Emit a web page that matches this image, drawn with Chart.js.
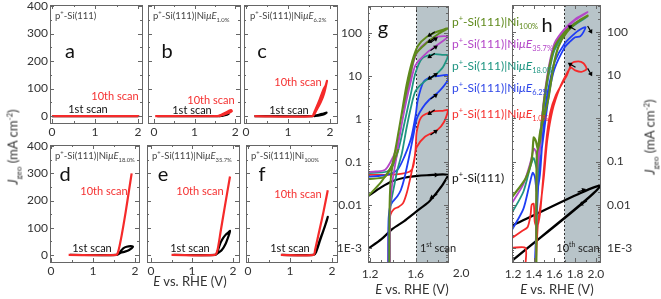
<!DOCTYPE html>
<html>
<head>
<meta charset="utf-8">
<script src="https://cdn.jsdelivr.net/npm/chart.js@4.4.0/dist/chart.umd.min.js"></script>
<style>
html,body{margin:0;padding:0;background:#fff;width:661px;height:299px;overflow:hidden;position:relative;font-family:Lato,'Open Sans',sans-serif;color:#333}
canvas{position:absolute;left:-20px;top:-20px}
.t{position:absolute;white-space:nowrap;line-height:1}
.c{transform:translate(-50%,-50%)}
.ti{font-size:9.5px;color:#444}
.lt{font-size:20px;color:#111}
.sc{font-size:11px}
.lg{font-size:12px}
sup,sub{font-size:62%;line-height:0}
</style>
</head>
<body>
<canvas id="pa" width="701" height="339"></canvas>
<canvas id="pb" width="701" height="339"></canvas>
<canvas id="pc" width="701" height="339"></canvas>
<canvas id="pd" width="701" height="339"></canvas>
<canvas id="pe" width="701" height="339"></canvas>
<canvas id="pf" width="701" height="339"></canvas>
<canvas id="pg" width="701" height="339"></canvas>
<canvas id="ph" width="701" height="339"></canvas>

<!-- panel titles -->
<div class="t ti" style="left:55px;top:11px">p<sup>+</sup>-Si(111)</div>
<div class="t ti" style="left:153px;top:11px">p<sup>+</sup>-Si(111)|Ni<i>μE</i><sub>1.0%</sub></div>
<div class="t ti" style="left:250px;top:11px">p<sup>+</sup>-Si(111)|Ni<i>μE</i><sub>6.2%</sub></div>
<div class="t ti" style="left:55px;top:151px">p<sup>+</sup>-Si(111)|Ni<i>μE</i><sub>18.0%</sub></div>
<div class="t ti" style="left:152px;top:151px">p<sup>+</sup>-Si(111)|Ni<i>μE</i><sub>35.7%</sub></div>
<div class="t ti" style="left:251px;top:151px">p<sup>+</sup>-Si(111)|Ni<sub>100%</sub></div>

<!-- panel letters -->
<div class="t c lt" style="left:70px;top:50px">a</div>
<div class="t c lt" style="left:167px;top:50px">b</div>
<div class="t c lt" style="left:262px;top:50px">c</div>
<div class="t c lt" style="left:65px;top:173px">d</div>
<div class="t c lt" style="left:163px;top:173px">e</div>
<div class="t c lt" style="left:262px;top:173px">f</div>
<div class="t c lt" style="left:383px;top:27px">g</div>
<div class="t c lt" style="left:547px;top:24px">h</div>

<!-- scan labels -->
<div class="t c sc" style="left:115px;top:95px;color:#f53030">10th scan</div>
<div class="t c sc" style="left:88px;top:108px;color:#111">1st scan</div>
<div class="t c sc" style="left:211px;top:99px;color:#f53030">10th scan</div>
<div class="t c sc" style="left:192px;top:109px;color:#111">1st scan</div>
<div class="t c sc" style="left:298px;top:81px;color:#f53030">10th scan</div>
<div class="t c sc" style="left:289px;top:109px;color:#111">1st scan</div>
<div class="t c sc" style="left:104px;top:190px;color:#f53030">10th scan</div>
<div class="t c sc" style="left:92px;top:247px;color:#111">1st scan</div>
<div class="t c sc" style="left:200px;top:190px;color:#f53030">10th scan</div>
<div class="t c sc" style="left:190px;top:247px;color:#111">1st scan</div>
<div class="t c sc" style="left:298px;top:193px;color:#f53030">10th scan</div>
<div class="t c sc" style="left:290px;top:247px;color:#111">1st scan</div>
<div class="t c sc" style="left:438px;top:247px;color:#222">1<sup>st</sup> scan</div>
<div class="t c sc" style="left:578px;top:247px;color:#222">10<sup>th</sup> scan</div>

<!-- legend of g -->
<div class="t lg" style="left:452px;top:16px;color:#5f8a1c">p<sup>+</sup>-Si(111)|Ni<sub>100%</sub></div>
<div class="t lg" style="left:452px;top:38px;color:#b447c8">p<sup>+</sup>-Si(111)|Ni<i>μE</i><sub>35.7%</sub></div>
<div class="t lg" style="left:452px;top:60px;color:#1f9582">p<sup>+</sup>-Si(111)|Ni<i>μE</i><sub>18.0%</sub></div>
<div class="t lg" style="left:452px;top:82px;color:#3048e8">p<sup>+</sup>-Si(111)|Ni<i>μE</i><sub>6.2%</sub></div>
<div class="t lg" style="left:452px;top:108px;color:#f53030">p<sup>+</sup>-Si(111)|Ni<i>μE</i><sub>1.0%</sub></div>
<div class="t lg" style="left:452px;top:172px;color:#111">p<sup>+</sup>-Si(111)</div>

<!-- axis titles -->
<div class="t c" style="left:13px;top:147px;transform:translate(-50%,-50%) rotate(-90deg);font-size:13px"><i>J</i><sub>geo</sub> (mA cm<sup>-2</sup>)</div>
<div class="t c" style="left:650px;top:137px;transform:translate(-50%,-50%) rotate(-90deg);font-size:13px"><i>J</i><sub>geo</sub> (mA cm<sup>-2</sup>)</div>
<div class="t c" style="left:190px;top:281px;font-size:13px"><i>E</i> vs. RHE (V)</div>
<div class="t c" style="left:412px;top:289px;font-size:13px"><i>E</i> vs. RHE (V)</div>
<div class="t c" style="left:557px;top:289px;font-size:13px"><i>E</i> vs. RHE (V)</div>

<script>
/* data: [E (V vs RHE), J (mA cm-2)] */
const aBlack = [[0,0],[2.0,0]];
const aRed   = [[0,0],[2.03,0]];
const bBlack = [[0.08,0],[1.6,0],[1.68,2],[1.76,5],[1.84,9],[1.8,5],[1.7,2],[1.62,0]];
const bRed   = [[0.03,0],[1.56,0],[1.66,5],[1.76,12],[1.85,20],[1.9,22],[1.92,18],[1.88,14],[1.8,10],[1.7,4],[1.6,0]];
const cBlack = [[0.2,0],[1.58,0],[1.7,4],[1.82,8],[1.92,13],[1.88,8],[1.75,3],[1.62,0]];
const cRed   = [[0.2,0],[1.58,0],[1.68,22],[1.78,50],[1.86,82],[1.93,128],[1.9,112],[1.85,98],[1.76,62],[1.66,25],[1.6,4]];
const dBlack = [[0.45,0],[1.57,0],[1.66,8],[1.76,12],[1.86,18],[1.95,30],[1.9,32],[1.8,30],[1.72,24],[1.65,12],[1.6,3]];
const dRed   = [[0.42,0],[1.55,0],[1.6,12],[1.68,70],[1.78,160],[1.86,240],[1.92,300]];
const eBlack = [[0.55,0],[1.57,0],[1.64,8],[1.73,18],[1.82,40],[1.9,72],[1.93,88],[1.9,84],[1.83,75],[1.76,62],[1.7,45],[1.63,15],[1.6,3]];
const eRed   = [[0.5,0],[1.56,0],[1.62,15],[1.7,85],[1.8,175],[1.93,288]];
const fBlack = [[0.8,0],[1.56,0],[1.62,10],[1.72,55],[1.82,100],[1.9,140],[1.88,128],[1.8,92],[1.7,50],[1.62,12]];
const fRed   = [[0.78,0],[1.56,0],[1.6,20],[1.7,90],[1.8,160],[1.9,238]];

/* g: 1st scan, log current */
const gBlack = [[1.182,0.016],[1.3,0.026],[1.4,0.036],[1.5,0.043],[1.6,0.047],[1.7,0.049],[1.884,0.05],[1.84,0.03],[1.79,0.02],[1.72,0.012],[1.6,0.0068],[1.5,0.0042],[1.4,0.0028],[1.3,0.0016],[1.182,0.00095]];
const gRed   = [[1.36,0.0004],[1.365,0.003],[1.38,0.006],[1.41,0.008],[1.45,0.009],[1.49,0.011],[1.525,0.02],[1.56,0.05],[1.59,0.12],[1.61,0.22],[1.68,0.38],[1.79,0.55],[1.85,0.85],[1.884,1.6],[1.84,1.55],[1.75,1.5],[1.65,1.1],[1.61,0.5],[1.6,0.2],[1.58,0.08],[1.55,0.06],[1.45,0.052],[1.3,0.05],[1.182,0.05]];
const gBlue  = [[1.36,0.0004],[1.362,0.004],[1.375,0.009],[1.4,0.012],[1.44,0.016],[1.47,0.022],[1.5,0.04],[1.54,0.12],[1.58,0.4],[1.61,1.0],[1.66,1.8],[1.72,2.8],[1.8,4.2],[1.884,8],[1.884,10.5],[1.8,10],[1.74,9.5],[1.67,7.3],[1.62,2.8],[1.6,1.2],[1.56,0.35],[1.5,0.13],[1.44,0.065],[1.35,0.05],[1.182,0.045]];
const gTeal  = [[1.37,0.0004],[1.372,0.005],[1.385,0.012],[1.41,0.026],[1.44,0.065],[1.48,0.16],[1.52,0.6],[1.56,1.9],[1.6,4.5],[1.68,7.5],[1.76,10],[1.84,16],[1.884,30],[1.84,31],[1.76,32],[1.66,26],[1.6,12],[1.56,4],[1.51,1.0],[1.46,0.25],[1.41,0.09],[1.35,0.06],[1.182,0.055]];
const gMag   = [[1.375,0.0004],[1.378,0.01],[1.4,0.04],[1.43,0.12],[1.46,0.4],[1.5,1.5],[1.55,6],[1.6,18],[1.7,35],[1.8,55],[1.884,82],[1.8,82],[1.7,62],[1.62,38],[1.58,20],[1.53,5],[1.48,0.8],[1.43,0.2],[1.38,0.1],[1.33,0.065],[1.25,0.06],[1.182,0.058]];
const gGreen = [[1.37,0.0004],[1.372,0.01],[1.385,0.05],[1.41,0.12],[1.45,0.5],[1.5,2.5],[1.55,10],[1.6,32],[1.7,60],[1.8,95],[1.884,128],[1.8,110],[1.7,82],[1.62,50],[1.57,22],[1.52,6],[1.47,1],[1.43,0.25],[1.39,0.08],[1.33,0.045],[1.182,0.04]];
const gGreenStart = [[1.182,0.016],[1.3,0.035],[1.4,0.09],[1.45,0.2]];
/* scan-direction arrows: [E, J, screen angle in degrees] */
const gArrows = [[1.74,95,145],[1.76,68,-35],[1.74,68,145],[1.76,44,-35],[1.74,30,145],[1.76,10,-35],
                 [1.74,9.5,145],[1.76,3.3,-35],[1.74,1.45,145],[1.76,0.48,-35],[1.76,0.05,0],[1.76,0.016,150]];

/* h: 10th scan, log current */
const hBlack = [[1.19,0.0033],[2.04,0.027],[1.19,0.0005]];
const hRed   = [[1.19,0.0017],[1.28,0.0024],[1.34,0.003],[1.37,0.006],[1.38,0.01],[1.4,0.0105],[1.41,0.004],[1.43,0.003],[1.46,0.006],[1.48,0.02],[1.51,0.15],[1.53,0.47],[1.56,1.4],[1.61,3.3],[1.68,6.8],[1.72,10],[1.77,19],[1.83,21],[1.88,19],[1.91,14],[1.86,12],[1.8,13],[1.76,15],[1.72,11],[1.65,5],[1.58,1.5],[1.53,0.3],[1.5,0.05],[1.47,0.012],[1.44,0.0035],[1.42,0.0004]];
const hRedBox = [[1.19,0.001],[1.32,0.001],[1.32,0.0004]];
const hBlue  = [[1.19,0.0026],[1.3,0.008],[1.36,0.03],[1.39,0.055],[1.41,0.045],[1.43,0.02],[1.46,0.05],[1.49,0.5],[1.52,2.5],[1.56,8],[1.6,20],[1.7,55],[1.8,95],[1.86,120],[1.9,130],[1.88,100],[1.85,80],[1.8,76],[1.75,60],[1.7,45],[1.6,14],[1.55,4],[1.5,0.5],[1.45,0.05],[1.41,0.0004]];
const hTeal  = [[1.19,0.0065],[1.3,0.02],[1.37,0.08],[1.4,0.12],[1.43,0.07],[1.46,0.4],[1.5,2.5],[1.55,14],[1.6,42],[1.7,100],[1.8,160],[1.92,230],[1.8,150],[1.7,95],[1.6,38],[1.55,12],[1.5,2],[1.46,0.2],[1.43,0.02],[1.42,0.0004]];
const hMag   = [[1.19,0.011],[1.3,0.03],[1.37,0.1],[1.4,0.2],[1.42,0.17],[1.44,0.12],[1.47,0.6],[1.5,3],[1.55,18],[1.6,55],[1.7,120],[1.8,200],[1.92,290],[1.8,190],[1.7,110],[1.6,50],[1.55,15],[1.5,2.5],[1.46,0.2],[1.43,0.05],[1.42,0.0004]];
const hGreen = [[1.19,0.015],[1.32,0.04],[1.38,0.11],[1.4,0.36],[1.42,0.3],[1.44,0.2],[1.46,0.45],[1.54,2.8],[1.59,16],[1.64,47],[1.72,100],[1.82,170],[1.92,240],[1.8,160],[1.7,100],[1.6,45],[1.55,15],[1.5,2.5],[1.46,0.3],[1.43,0.15],[1.425,0.0004]];
const hArrows = [[1.77,125,-150],[1.94,115,60],[1.77,17,-150],[1.94,12,60],[1.86,0.021,-20],[1.88,0.011,150]];

/* ticks */
const linXTicks = [0, 0.5, 1, 1.5, 2];
const linXMajor = [0, 1, 2];
const linYTicks = [0, 50, 100, 150, 200, 250, 300, 350, 400];
const linYMajor = [0, 100, 200, 300, 400];
const gXTicks = [1.2, 1.3, 1.4, 1.5, 1.6, 1.7, 1.8];
const gXMajor = [1.2, 1.6];
const hXTicks = [1.2, 1.3, 1.4, 1.5, 1.6, 1.7, 1.8, 1.9, 2.0];
const hXMajor = [1.2, 1.4, 1.6, 1.8, 2.0];
const logMajor = [0.001, 0.01, 0.1, 1, 10, 100];
const logLabels = ['1E-3', '0.01', '0.1', '1', '10', '100'];
const logTicks = [];
[0.0001, 0.001, 0.01, 0.1, 1, 10, 100].forEach(d => { for (let k = 1; k < 10; k++) logTicks.push(d * k); });

const RED = '#f52a2a', BLK = '#000', BLUE = '#1f3df5', TEAL = '#1f9582', MAG = '#b447c8', OLIVE = '#5f8a1c';

const has = (arr, v) => arr.some(m => Math.abs(m - v) < 1e-9 || Math.abs(v / (m || 1) - 1) < 1e-6);

/* ── plugins ── */
const frameTicks = {
    id: 'frameTicks',
    afterDatasetsDraw(chart, args, o) {
        const {ctx, chartArea: a} = chart;
        const x = chart.scales.x, y = chart.scales.y;
        ctx.save();
        ctx.strokeStyle = '#666';
        ctx.lineWidth = 1;
        ctx.beginPath();
        x.ticks.forEach(t => {
            const p = Math.round(x.getPixelForValue(t.value)) + 0.5;
            if (p < a.left - 1 || p > a.right + 1) return;
            const len = has(o.xMaj, t.value) ? 4 : 2;
            ctx.moveTo(p, a.bottom); ctx.lineTo(p, a.bottom - len);
            ctx.moveTo(p, a.top); ctx.lineTo(p, a.top + len);
        });
        y.ticks.forEach(t => {
            const p = Math.round(y.getPixelForValue(t.value)) + 0.5;
            if (p < a.top - 1 || p > a.bottom + 1) return;
            const len = has(o.yMaj, t.value) ? 4 : 2;
            ctx.moveTo(a.left, p); ctx.lineTo(a.left + len, p);
            ctx.moveTo(a.right, p); ctx.lineTo(a.right - len, p);
        });
        ctx.stroke();
        ctx.strokeRect(Math.round(a.left) + 0.5, Math.round(a.top) + 0.5, Math.round(a.right - a.left), Math.round(a.bottom - a.top));
        (o.extra || []).forEach(e => {
            ctx.fillStyle = '#333';
            ctx.font = '12px Lato';
            ctx.textAlign = 'center';
            ctx.textBaseline = 'top';
            ctx.fillText(e.t, x.getPixelForValue(e.v), a.bottom + e.pad);
        });
        /* small scan-direction arrows */
        ctx.fillStyle = '#000';
        ctx.strokeStyle = '#000';
        ctx.lineWidth = 1.2;
        (o.arrows || []).forEach(ar => {
            const px = x.getPixelForValue(ar[0]), py = y.getPixelForValue(ar[1]);
            const th = ar[2] * Math.PI / 180;
            const dx = Math.cos(th), dy = Math.sin(th);
            ctx.beginPath();
            ctx.moveTo(px - dx * 4, py - dy * 4);
            ctx.lineTo(px + dx * 3, py + dy * 3);
            ctx.stroke();
            ctx.beginPath();
            ctx.moveTo(px + dx * 5, py + dy * 5);
            ctx.lineTo(px + dx * 1 - dy * 2.5, py + dy * 1 + dx * 2.5);
            ctx.lineTo(px + dx * 1 + dy * 2.5, py + dy * 1 - dx * 2.5);
            ctx.closePath();
            ctx.fill();
        });
        ctx.restore();
    }
};

const shade = {
    id: 'shade',
    beforeDatasetsDraw(chart, args, o) {
        if (o.from == null) return;
        const {ctx, chartArea: a} = chart;
        const px = Math.round(chart.scales.x.getPixelForValue(o.from)) + 0.5;
        ctx.save();
        ctx.fillStyle = '#b8c4c9';
        ctx.fillRect(px, a.top, a.right - px, a.bottom - a.top);
        ctx.setLineDash([2, 2]);
        ctx.strokeStyle = '#333';
        ctx.beginPath();
        ctx.moveTo(px, a.top); ctx.lineTo(px, a.bottom);
        ctx.stroke();
        ctx.restore();
    }
};

/* ── panel builder ── */
const OFF = 20, CW = 701, CH = 339;
const toPts = arr => arr.map(p => ({x: p[0], y: p[1]}));

function makePanel(id, f, xs, ys, series, extra) {
    const W = 34, H = 20;
    const right = !!extra.yRight;
    const pad = right
        ? {left: f.l + OFF, top: f.t + OFF, right: CW - (f.r + OFF) - W, bottom: CH - (f.b + OFF) - H}
        : {left: f.l + OFF - W, top: f.t + OFF, right: CW - (f.r + OFF), bottom: CH - (f.b + OFF) - H};
    const font = {family: 'Lato', size: 12};
    new Chart(document.getElementById(id), {
        type: 'scatter',
        data: {
            datasets: series.map(s => ({
                data: toPts(s.d), borderColor: s.c, borderWidth: s.w || 1.8,
                showLine: true, pointRadius: 0, tension: 0.25, fill: false
            }))
        },
        options: {
            responsive: false, animation: false, events: [],
            layout: {padding: pad},
            plugins: {
                legend: {display: false}, tooltip: {enabled: false},
                shade: {from: extra.shade == null ? null : extra.shade},
                frameTicks: {xMaj: xs.major, yMaj: ys.major, extra: extra.xExtra || [], arrows: extra.arrows || []}
            },
            scales: {
                x: {
                    type: 'linear', min: xs.min, max: xs.max,
                    grid: {display: false, drawTicks: false}, border: {display: false},
                    afterBuildTicks: s => { s.ticks = xs.ticks.map(v => ({value: v})); },
                    afterFit: s => { s.height = H; },
                    ticks: {autoSkip: false, maxRotation: 0, padding: xs.pad, color: '#333', font,
                        callback: v => has(xs.labelled, v) ? xs.fmt(v) : ''}
                },
                y: {
                    type: ys.type || 'linear', position: right ? 'right' : 'left',
                    min: ys.min, max: ys.max,
                    grid: {display: false, drawTicks: false}, border: {display: false},
                    afterBuildTicks: s => { s.ticks = ys.ticks.map(v => ({value: v})); },
                    afterFit: s => { s.width = W; },
                    ticks: {autoSkip: false, padding: ys.pad, color: '#333', font,
                        callback: v => ys.show ? ys.fmt(v) : ''}
                }
            }
        },
        plugins: [frameTicks, shade]
    });
}

const linX = (min, max) => ({min, max, ticks: linXTicks, major: linXMajor, labelled: linXMajor, pad: 2, fmt: v => String(v)});
const linY = (min, max, show) => ({min, max, ticks: linYTicks, major: linYMajor, pad: 2, show,
    fmt: v => (v % 100 === 0 ? String(v) : '')});
const logY = {type: 'logarithmic', min: 4.7e-4, max: 425, ticks: logTicks, major: logMajor, show: true,
    fmt: v => { const i = logMajor.findIndex(m => Math.abs(v / m - 1) < 1e-6); return i < 0 ? '' : logLabels[i]; }};

const redBlack = (r, b) => [{d: r, c: RED, w: 2.2}, {d: b, c: BLK, w: 2.2}];

makePanel('pa', {l: 50, t: 5, r: 142, b: 123}, linX(-0.047, 2.093), linY(-25, 404, true), redBlack(aRed, aBlack), {});
makePanel('pb', {l: 148, t: 5, r: 240, b: 123}, linX(-0.148, 2.12), linY(-25, 404, false), redBlack(bRed, bBlack), {});
makePanel('pc', {l: 244, t: 5, r: 337, b: 123}, linX(-0.05, 2.17), linY(-25, 404, false), redBlack(cRed, cBlack), {});
makePanel('pd', {l: 50, t: 145, r: 139, b: 262}, linX(-0.024, 2.095), linY(-26, 404, true), redBlack(dRed, dBlack), {});
makePanel('pe', {l: 147, t: 145, r: 239, b: 262}, linX(-0.1, 2.15), linY(-26, 404, false), redBlack(eRed, eBlack), {});
makePanel('pf', {l: 246, t: 145, r: 337, b: 262}, linX(-0.05, 2.12), linY(-26, 404, false), redBlack(fRed, fBlack), {});

makePanel('pg', {l: 368, t: 6, r: 448, b: 262},
    {min: 1.182, max: 1.885, ticks: gXTicks, major: gXMajor, labelled: gXMajor, pad: 5, fmt: v => v.toFixed(1)},
    Object.assign({}, logY, {pad: 6}),
    [{d: gGreen, c: OLIVE, w: 2}, {d: gGreenStart, c: OLIVE, w: 2}, {d: gMag, c: MAG}, {d: gTeal, c: TEAL},
     {d: gBlue, c: BLUE}, {d: gRed, c: RED}, {d: gBlack, c: BLK, w: 2.2}],
    {shade: 1.6, xExtra: [{v: 2.0, t: '2.0', pad: 5}], arrows: gArrows});

makePanel('ph', {l: 512, t: 5, r: 600, b: 262},
    {min: 1.19, max: 2.04, ticks: hXTicks, major: hXMajor, labelled: hXMajor, pad: 5, fmt: v => v.toFixed(1)},
    Object.assign({}, logY, {pad: 7}),
    [{d: hGreen, c: OLIVE, w: 2.2}, {d: hMag, c: MAG}, {d: hTeal, c: TEAL}, {d: hBlue, c: BLUE},
     {d: hRed, c: RED}, {d: hRedBox, c: RED}, {d: hBlack, c: BLK, w: 2.4}],
    {shade: 1.69, yRight: true, arrows: hArrows});
</script>
</body>
</html>
